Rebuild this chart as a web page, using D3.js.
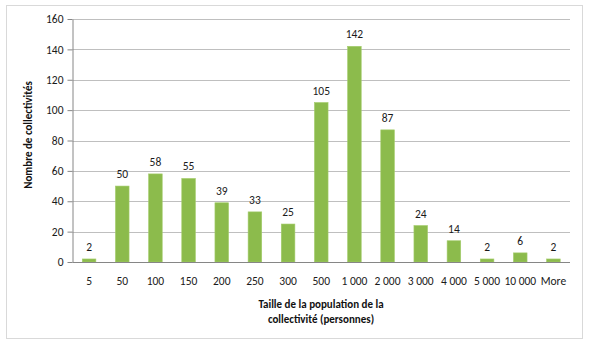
<!DOCTYPE html>
<html><head><meta charset="utf-8">
<script src="https://cdn.jsdelivr.net/npm/d3@7"></script>
<style>body{margin:0;background:#fff;}svg{display:block;font-family:Carlito,Calibri,Lato,"Open Sans",sans-serif;}</style>
</head><body>
<svg id="c" width="590" height="346"></svg>
<script>
const categories = ["5","50","100","150","200","250","300","500","1 000","2 000","3 000","4 000","5 000","10 000","More"];
const values = [2,50,58,55,39,33,25,105,142,87,24,14,2,6,2];
const yTicks = [0,20,40,60,80,100,120,140,160];
const yTitle = "Nombre de collectivités";
const xTitle = ["Taille de la population  de la","collectivité (personnes)"];

(function(){
const svg = d3.select("#c");
svg.append("rect").attr("x",6.5).attr("y",5.5).attr("width",576).attr("height",333)
  .attr("fill","#fff").attr("stroke","#d9d9d9").attr("stroke-width",1);

const pLeft=72.5, pRight=570, pTop=19, pBottom=262;
const x = d3.scaleBand().domain(categories).range([pLeft,pRight]).paddingInner(0.59).paddingOuter(0.295);
const y = d3.scaleLinear().domain([0,160]).range([pBottom,pTop]);

const grid = svg.append("g");
grid.selectAll("line").data(yTicks.filter(d=>d>0)).join("line")
  .attr("x1",pLeft).attr("x2",pRight)
  .attr("y1",d=>Math.round(y(d))+0.5).attr("y2",d=>Math.round(y(d))+0.5)
  .attr("stroke","#bfbfbf").attr("stroke-width",1);

const yAxis = svg.append("g").attr("transform",`translate(${pLeft},0)`)
  .call(d3.axisLeft(y).tickValues(yTicks).tickSize(5).tickSizeOuter(0));
yAxis.attr("font-family",null);
yAxis.select(".domain").attr("stroke","#868686");
yAxis.selectAll(".tick line").attr("stroke","#868686");
yAxis.selectAll("text").attr("font-size",11.5).attr("fill","#1a1a1a").attr("x",-9);

svg.selectAll("rect.bar").data(values).join("rect").attr("class","bar")
  .attr("x",(d,i)=>x(categories[i])).attr("width",x.bandwidth())
  .attr("y",d=>y(d)).attr("height",d=>pBottom-y(d))
  .attr("fill","#8cbb4c").attr("stroke","#a3cc6a").attr("stroke-width",0.6);

svg.append("line").attr("x1",pLeft).attr("x2",pRight).attr("y1",pBottom+0.5).attr("y2",pBottom+0.5)
  .attr("stroke","#868686");

svg.selectAll("text.val").data(values).join("text").attr("class","val")
  .attr("x",(d,i)=>x(categories[i])+x.bandwidth()/2).attr("y",d=>y(d)-8)
  .attr("text-anchor","middle").attr("font-size",11.5).attr("fill","#1a1a1a").text(d=>d);

svg.selectAll("text.cat").data(categories).join("text").attr("class","cat")
  .attr("x",d=>x(d)+x.bandwidth()/2).attr("y",285)
  .attr("text-anchor","middle").attr("font-size",11.5).attr("fill","#1a1a1a").text(d=>d);

svg.append("text").attr("transform","translate(32,135) rotate(-90)")
  .attr("text-anchor","middle").attr("font-size",11).attr("font-weight","bold").attr("fill","#111").text(yTitle);

svg.selectAll("text.xt").data(xTitle).join("text").attr("class","xt")
  .attr("x",321).attr("y",(d,i)=>308+i*15).attr("text-anchor","middle")
  .attr("font-size",11).attr("font-weight","bold").attr("fill","#111").text(d=>d);
})();
</script>
</body></html>
